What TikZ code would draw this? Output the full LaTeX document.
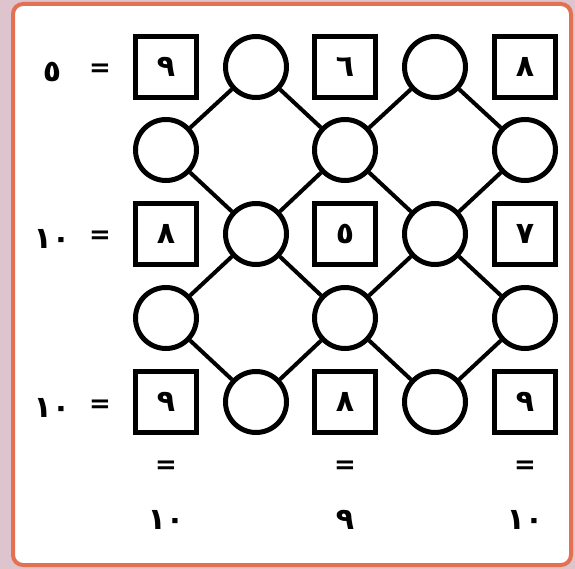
\documentclass[tikz,border=0pt]{standalone}
\usepackage{fontspec}
\newfontfamily\arabicfont[Script=Arabic]{DejaVu Sans}
\definecolor{frameor}{RGB}{228,112,84}
\definecolor{outbg}{RGB}{222,196,204}
\begin{document}
\begin{tikzpicture}[x=1pt,y=-1pt,
  sq/.style={draw,line width=5pt,minimum size=61pt,inner sep=0pt,font=\arabicfont\bfseries\fontsize{30}{30}\selectfont},
  ci/.style={draw,circle,line width=5pt,minimum size=61pt,inner sep=0pt},
  lab/.style={font=\arabicfont\bfseries\fontsize{30}{30}\selectfont,inner sep=0pt},
  eq/.style={font=\arabicfont\bfseries\fontsize{26}{26}\selectfont,inner sep=0pt},
  conn/.style={line width=4pt}]
\useasboundingbox (0,0) rectangle (575,569);
\fill[outbg] (0,0) rectangle (575,569);
\draw[frameor,line width=4pt,fill=white,rounded corners=10pt] (13,4) rectangle (571,565);
% row 1
\node[sq] (s11) at (166,67) {٩};
\node[ci] (c12) at (256,67) {};
\node[sq] (s13) at (345,67) {٦};
\node[ci] (c14) at (435,67) {};
\node[sq] (s15) at (525,67) {٨};
% row 2
\node[ci] (c21) at (166,150) {};
\node[ci] (c23) at (345,150) {};
\node[ci] (c25) at (525,150) {};
% row 3
\node[sq] (s31) at (166,234) {٨};
\node[ci] (c32) at (256,234) {};
\node[sq] (s33) at (345,234) {٥};
\node[ci] (c34) at (435,234) {};
\node[sq] (s35) at (525,234) {٧};
% row 4
\node[ci] (c41) at (166,318) {};
\node[ci] (c43) at (345,318) {};
\node[ci] (c45) at (525,318) {};
% row 5
\node[sq] (s51) at (166,402) {٩};
\node[ci] (c52) at (256,402) {};
\node[sq] (s53) at (345,402) {٨};
\node[ci] (c54) at (435,402) {};
\node[sq] (s55) at (525,402) {٩};
% connectors
\draw[conn] (c12) -- (c21); \draw[conn] (c12) -- (c23);
\draw[conn] (c14) -- (c23); \draw[conn] (c14) -- (c25);
\draw[conn] (c21) -- (c32); \draw[conn] (c23) -- (c32);
\draw[conn] (c23) -- (c34); \draw[conn] (c25) -- (c34);
\draw[conn] (c32) -- (c41); \draw[conn] (c32) -- (c43);
\draw[conn] (c34) -- (c43); \draw[conn] (c34) -- (c45);
\draw[conn] (c41) -- (c52); \draw[conn] (c43) -- (c52);
\draw[conn] (c43) -- (c54); \draw[conn] (c45) -- (c54);
% left labels
\node[eq] (e1) at (100,70) {=};
\node[lab] (l1) at (52,72) {٥};
\node[eq] (e3) at (100,237) {=};
\node[lab] (l3) at (52,239) {١٠};
\node[eq] (e5) at (100,406) {=};
\node[lab] (l5) at (52,408) {١٠};
% bottom labels
\node[eq] (b1e) at (166,467) {=};
\node[lab] (b1) at (166,520) {١٠};
\node[eq] (b3e) at (345,467) {=};
\node[lab] (b3) at (345,520) {٩};
\node[eq] (b5e) at (525,467) {=};
\node[lab] (b5) at (525,520) {١٠};
\end{tikzpicture}
\end{document}
